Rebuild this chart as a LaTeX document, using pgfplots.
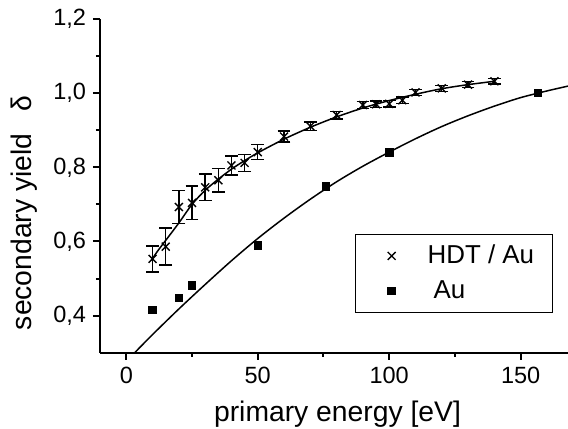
\documentclass[border=0pt]{standalone}
\usepackage{fontspec}
\setmainfont{Liberation Sans}
\usepackage{pgfplots}
\pgfplotsset{compat=1.18}
\usepackage{pgfplotstable}

\pgfplotstableread{
x y e
10 0.553 0.035
15 0.586 0.050
20 0.693 0.045
25 0.704 0.045
30 0.746 0.036
35 0.765 0.032
40 0.805 0.025
45 0.812 0.023
50 0.841 0.020
60 0.883 0.015
70 0.911 0.012
80 0.941 0.010
90 0.968 0.009
95 0.970 0.009
100 0.971 0.009
105 0.981 0.009
110 1.002 0.008
120 1.013 0.008
130 1.023 0.008
140 1.032 0.008
}\hdt

\pgfplotstableread{
x y
10 0.416
20 0.448
25 0.481
50 0.589
76 0.749
100 0.840
156.5 1.001
}\au

\pgfplotstableread{
x y
9.5 0.549
12 0.575
15 0.603
20 0.650
25 0.700
30 0.738
35 0.768
40 0.795
45 0.818
50 0.839
60 0.876
70 0.908
80 0.936
90 0.960
100 0.980
110 0.997
120 1.012
130 1.023
140 1.032
}\hdtfit

\pgfplotstableread{
x y
3.2 0.300
10 0.349
20 0.418
30 0.484
40 0.548
50 0.608
60 0.663
70 0.714
80 0.761
90 0.803
100 0.841
110 0.877
120 0.910
130 0.939
140 0.965
150 0.988
160 1.006
168 1.019
}\aufit

\begin{document}
\begin{tikzpicture}
\begin{axis}[
  scale only axis, width=234bp, height=166.85bp,
  xmin=-10, xmax=168, ymin=0.3, ymax=1.2,
  axis x line*=bottom, axis y line*=left,
  axis line style={line width=1.2bp, -},
  tick align=outside,
  major tick length=3.5bp, minor tick length=2bp,
  every tick/.style={black, line width=1bp},
  xtick={0,50,100,150}, minor xtick={25,75,125},
  ytick={0.4,0.6,0.8,1.0,1.2}, minor ytick={0.5,0.7,0.9,1.1},
  /pgf/number format/assume math mode=true,
  y tick label style={/pgf/number format/.cd, use comma, fixed, fixed zerofill, precision=1},
  tick label style={font=\fontsize{11.8}{13}\selectfont},
  xlabel={primary energy [eV]},
  ylabel={secondary yield\hspace{11bp}δ},
  label style={font=\fontsize{14.2}{16}\selectfont},
  xlabel style={at={(axis description cs:0.5075,-0.183)}, anchor=center},
  ylabel style={at={(axis description cs:-0.162,0.419)}, anchor=center},
  legend style={draw=black, line width=0.6bp,
    at={(axis description cs:0.545,0.356)}, anchor=north west,
    inner xsep=0pt, inner ysep=1.95bp, row sep=0pt,
    font=\fontsize{13}{15}\selectfont,
    nodes={inner sep=0pt}},
  legend cell align=left,
  legend image code/.code={
    \path[draw=none, fill=none] (0bp,-8.75bp) rectangle (36bp,8.75bp);
    \draw[#1] plot coordinates {(18bp,0bp)};},
]
\addplot[black, line width=0.75bp, smooth, forget plot] table[x=x,y=y]{\hdtfit};
\addplot[black, line width=0.75bp, smooth, forget plot] table[x=x,y=y]{\aufit};
\addplot[black, only marks, mark=x, mark size=2.8bp, mark options={line width=0.7bp},
  error bars/.cd, y dir=both, y explicit,
  error bar style={line width=0.7bp, black},
  error mark options={rotate=90, mark size=3.2bp, line width=0.8bp, black}]
  table[x=x,y=y,y error=e]{\hdt};
\addlegendentry{\makebox[62.4bp][l]{HDT / Au}}
\addplot[black, only marks, mark=square*, mark size=1.85bp]
  table[x=x,y=y]{\au};
\addlegendentry{\hspace{3bp}Au}
\end{axis}
\pgfresetboundingbox
\path (-50bp,-38.15bp) rectangle (234bp,176.35bp);
\end{tikzpicture}
\end{document}
